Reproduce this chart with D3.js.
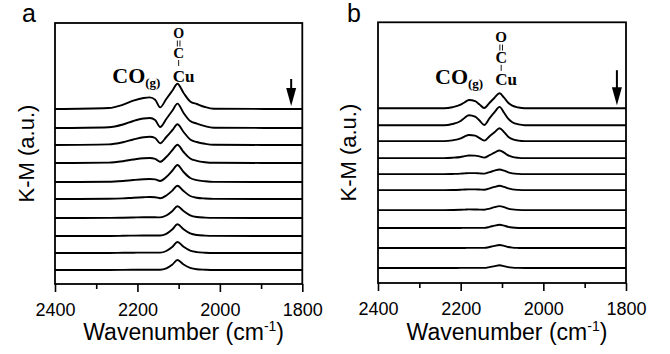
<!DOCTYPE html>
<html>
<head>
<meta charset="utf-8">
<script src="https://cdn.jsdelivr.net/npm/d3@7"></script>
<style>
  body { margin: 0; background: #fff; }
  svg { display: block; }
  .tick text { font-family: "Liberation Sans", Arial, sans-serif; font-size: 18px; fill: #000; }
  .tick line { stroke: #000; stroke-width: 1.6px; }
  .title { font-family: "Liberation Sans", Arial, sans-serif; fill: #000; }
  .chem { font-family: "Liberation Serif", "Times New Roman", serif; font-weight: bold; fill: #000; }
  .trace { fill: none; stroke: #000; stroke-width: 1.9px; stroke-linejoin: round; }
</style>
</head>
<body>
<script>
// Datos: número de onda (cm-1) y K-M de cada espectro (u.a.), de arriba a abajo
var wnA = [2400, 2270, 2235, 2210, 2185, 2170, 2157, 2145, 2130, 2115, 2103, 2088, 2072, 2056, 2036, 2015, 1800];
var specA = [
  [0, 0.10, 0.43, 0.83, 1.10, 1.16, 0.93, 0.16, 1.00, 1.85, 2.53, 1.60, 0.76, 0.50, 0.20, 0.03, 0],
  [0, 0.08, 0.35, 0.70, 0.95, 1.00, 0.80, 0.10, 0.90, 1.75, 2.44, 1.50, 0.70, 0.44, 0.18, 0.03, 0],
  [0, 0.06, 0.28, 0.55, 0.78, 0.83, 0.70, 0.17, 0.80, 1.50, 2.07, 1.30, 0.55, 0.30, 0.12, 0.02, 0],
  [0, 0.04, 0.18, 0.35, 0.48, 0.50, 0.42, 0.12, 0.60, 1.30, 1.83, 1.10, 0.45, 0.22, 0.08, 0.02, 0],
  [0, 0.02, 0.10, 0.20, 0.28, 0.30, 0.26, 0.10, 0.50, 1.15, 1.70, 1.00, 0.40, 0.18, 0.07, 0.01, 0],
  [0, 0.02, 0.06, 0.13, 0.18, 0.20, 0.18, 0.08, 0.35, 0.85, 1.33, 0.80, 0.30, 0.13, 0.05, 0.01, 0],
  [0, 0.01, 0.03, 0.05, 0.07, 0.07, 0.07, 0.06, 0.25, 0.70, 1.17, 0.70, 0.27, 0.10, 0.04, 0.01, 0],
  [0, 0.00, 0.02, 0.04, 0.05, 0.05, 0.05, 0.05, 0.22, 0.68, 1.17, 0.68, 0.26, 0.10, 0.04, 0.01, 0],
  [0, 0.00, 0.02, 0.03, 0.04, 0.04, 0.04, 0.04, 0.20, 0.62, 1.10, 0.62, 0.24, 0.09, 0.03, 0.00, 0],
  [0, 0.00, 0.01, 0.02, 0.03, 0.03, 0.03, 0.03, 0.17, 0.55, 1.00, 0.55, 0.22, 0.08, 0.03, 0.00, 0]
];
var offsetA = [17.5, 15.6, 13.9, 12.1, 10.2, 8.5, 6.6, 4.8, 3.1, 1.4];

var wnB = [2400, 2240, 2220, 2200, 2190, 2180, 2165, 2155, 2143, 2130, 2118, 2106, 2095, 2085, 2075, 2060, 2045, 1800];
var specB = [
  [0, 0, 0.10, 0.35, 0.60, 0.82, 0.70, 0.40, 0.02, 0.55, 1.05, 1.50, 1.05, 0.55, 0.25, 0.07, 0, 0],
  [0, 0, 0.12, 0.42, 0.75, 1.00, 0.85, 0.50, 0.02, 0.70, 1.30, 1.83, 1.25, 0.65, 0.30, 0.08, 0, 0],
  [0, 0, 0.08, 0.27, 0.48, 0.62, 0.55, 0.33, 0.05, 0.50, 0.90, 1.30, 0.90, 0.45, 0.20, 0.05, 0, 0],
  [0, 0, 0.04, 0.12, 0.20, 0.26, 0.25, 0.18, 0.05, 0.30, 0.55, 0.77, 0.55, 0.28, 0.12, 0.03, 0, 0],
  [0, 0, 0.02, 0.05, 0.08, 0.10, 0.10, 0.08, 0.05, 0.20, 0.35, 0.47, 0.35, 0.18, 0.08, 0.02, 0, 0],
  [0, 0, 0.01, 0.04, 0.06, 0.07, 0.07, 0.06, 0.04, 0.17, 0.32, 0.43, 0.32, 0.17, 0.07, 0.02, 0, 0],
  [0, 0, 0.01, 0.03, 0.05, 0.07, 0.06, 0.05, 0.04, 0.15, 0.30, 0.40, 0.30, 0.15, 0.07, 0.02, 0, 0],
  [0, 0, 0.00, 0.01, 0.02, 0.02, 0.02, 0.02, 0.02, 0.12, 0.24, 0.33, 0.24, 0.12, 0.05, 0.01, 0, 0],
  [0, 0, 0.00, 0.01, 0.01, 0.02, 0.02, 0.02, 0.02, 0.10, 0.22, 0.30, 0.22, 0.10, 0.04, 0.01, 0, 0],
  [0, 0, 0.00, 0.01, 0.01, 0.01, 0.01, 0.01, 0.01, 0.09, 0.19, 0.27, 0.19, 0.09, 0.04, 0.01, 0, 0]
];
var offsetB = [17.5, 15.8, 14.2, 12.5, 10.9, 9.3, 7.3, 5.5, 3.5, 1.5];

var majorTicks = [2400, 2200, 2000, 1800];
var minorTicks = [2300, 2100, 1900];

var svg = d3.select("body").append("svg")
    .attr("width", 670)
    .attr("height", 354);

// Cada panel con su caja de dibujo
var panels = [
  {label: "a", wn: wnA, spec: specA, off: offsetA, left: 55, right: 302.3, top: 23, bottom: 284,
   yLabelX: 34, labelX: 22, co: [2261, 20.1], cu: 2100, chemY: 0, chemS: 0, arrow: 1827},
  {label: "b", wn: wnB, spec: specB, off: offsetB, left: 378, right: 626, top: 22.3, bottom: 283,
   yLabelX: 356, labelX: 347, co: [2262, 19.9], cu: 2102, chemY: 4, chemS: 1, arrow: 1822}
];

panels.forEach(function(p) {
  var x = d3.scaleLinear().domain([2400, 1800]).range([p.left, p.right]);
  var y = d3.scaleLinear().domain([0, 26.1]).range([p.bottom, p.top]);
  var g = svg.append("g");

  // Espectros desplazados
  p.spec.forEach(function(s, i) {
    var line = d3.line()
        .x(function(d, j) { return x(p.wn[j]); })
        .y(function(d) { return y(d + p.off[i]); })
        .curve(d3.curveMonotoneX);
    g.append("path").attr("class", "trace").attr("d", line(s));
  });

  // Marco
  g.append("rect")
      .attr("x", p.left).attr("y", p.top)
      .attr("width", p.right - p.left).attr("height", p.bottom - p.top)
      .attr("fill", "none").attr("stroke", "#000").attr("stroke-width", 1.8);

  // Ejes X: marcas mayores con texto y menores sin texto
  g.append("g")
      .attr("transform", "translate(0," + p.bottom + ")")
      .call(d3.axisBottom(x).tickValues(majorTicks).tickSize(8).tickPadding(11).tickFormat(d3.format("d")))
      .call(function(a) { a.select(".domain").remove(); });
  g.append("g")
      .attr("transform", "translate(0," + p.bottom + ")")
      .call(d3.axisBottom(x).tickValues(minorTicks).tickSize(5).tickFormat(""))
      .call(function(a) { a.select(".domain").remove(); });

  // Títulos
  var xt = g.append("text").attr("class", "title")
      .attr("x", (p.left + p.right) / 2 + 5).attr("y", 340)
      .attr("text-anchor", "middle").style("font-size", "23px");
  xt.append("tspan").text("Wavenumber (cm");
  xt.append("tspan").attr("dy", -9).style("font-size", "14px").text("-1");
  xt.append("tspan").attr("dy", 9).text(")");

  g.append("text").attr("class", "title")
      .attr("transform", "translate(" + p.yLabelX + "," + ((p.top + p.bottom) / 2) + ") rotate(-90)")
      .attr("text-anchor", "middle").style("font-size", "22px")
      .text("K-M (a.u.)");

  g.append("text").attr("class", "title")
      .attr("x", p.labelX).attr("y", 22).style("font-size", "25px")
      .text(p.label);

  // Anotaciones: CO(g) y O=C-Cu
  var co = g.append("text").attr("class", "chem")
      .attr("x", x(p.co[0])).attr("y", y(p.co[1])).style("font-size", "22px");
  co.append("tspan").text("CO");
  co.append("tspan").attr("dy", 4).style("font-size", "13px").text("(g)");

  var cx = x(p.cu), dy = p.chemY;
  g.append("text").attr("class", "chem").attr("x", cx).attr("y", 37.5 + dy)
      .attr("text-anchor", "middle").style("font-size", (14 + p.chemS) + "px").text("O");
  [-1.3, 1.3].forEach(function(o) {
    g.append("line").attr("x1", cx + o).attr("x2", cx + o)
        .attr("y1", 40.5 + dy).attr("y2", 46.5 + dy)
        .attr("stroke", "#000").attr("stroke-width", 0.9);
  });
  g.append("text").attr("class", "chem").attr("x", cx).attr("y", 58 + dy * 1.2)
      .attr("text-anchor", "middle").style("font-size", (15 + p.chemS) + "px").text("C");
  g.append("line").attr("x1", cx).attr("x2", cx)
      .attr("y1", 60 + dy * 1.2).attr("y2", 66 + dy * 1.2)
      .attr("stroke", "#000").attr("stroke-width", 0.9);
  g.append("text").attr("class", "chem").attr("x", cx - 6).attr("y", 81.7 + dy * 0.8)
      .style("font-size", "17px").text("Cu");

  // Flecha hacia abajo
  var ax = x(p.arrow), ytip = y(p.off[0]) - 3;
  g.append("line").attr("x1", ax).attr("x2", ax)
      .attr("y1", ytip - 27 - dy * 2).attr("y2", ytip - 15)
      .attr("stroke", "#000").attr("stroke-width", 2);
  g.append("path")
      .attr("d", "M" + (ax - 5) + "," + (ytip - 18) + "L" + (ax + 5) + "," + (ytip - 18) + "L" + ax + "," + ytip + "Z")
      .attr("fill", "#000");
});
</script>
</body>
</html>
